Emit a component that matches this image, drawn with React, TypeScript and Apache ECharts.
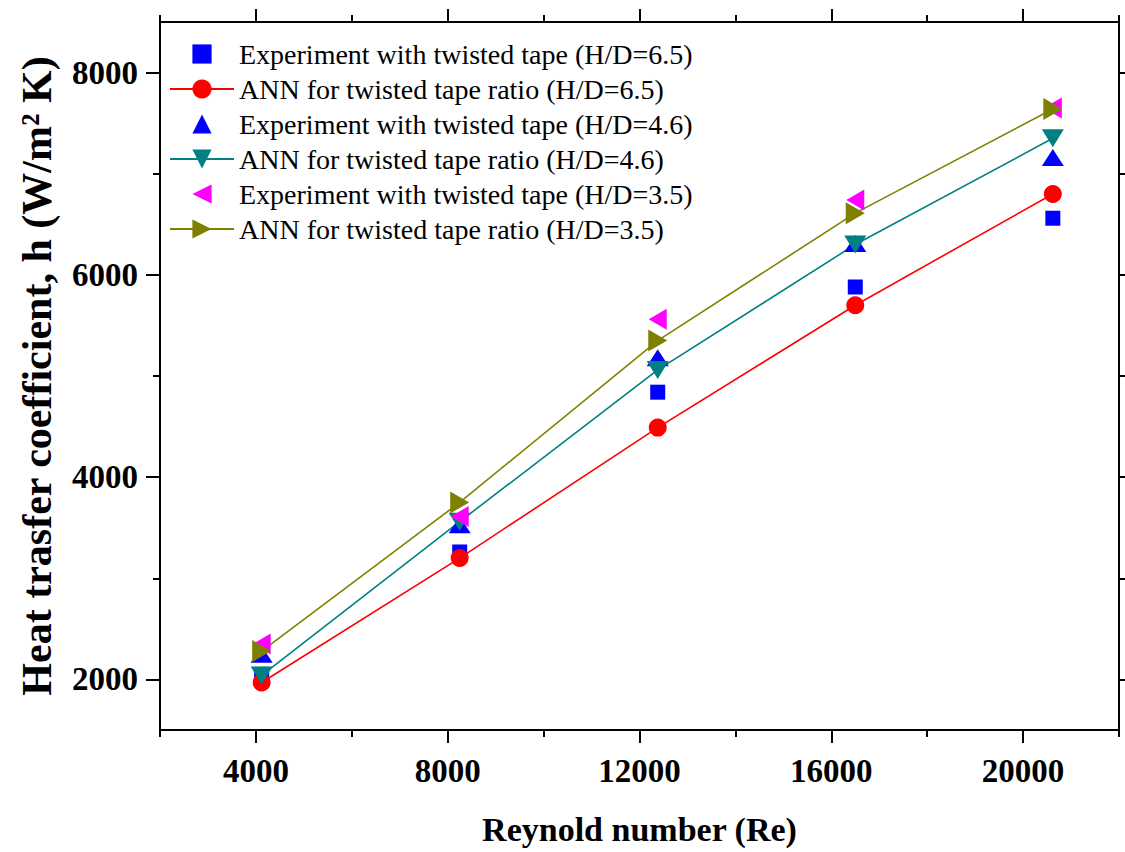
import React, { useEffect, useRef } from "react";
import * as echarts from "echarts";

// Reynolds numbers of the test runs
const reynolds = [4120, 8250, 12380, 16500, 20620];

// Heat transfer coefficient h (W/m² K)
const expHD65 = [2050, 3260, 4840, 5880, 6560];
const annHD65 = [1970, 3200, 4490, 5700, 6800];
const expHD46 = [2250, 3530, 5180, 6310, 7160];
const annHD46 = [2040, 3560, 5060, 6300, 7350];
const expHD35 = [2350, 3610, 5560, 6740, 7650];
const annHD35 = [2280, 3750, 5350, 6610, 7640];

const seriesNames = [
  "Experiment with twisted tape (H/D=6.5)",
  "ANN for twisted tape ratio (H/D=6.5)",
  "Experiment with twisted tape (H/D=4.6)",
  "ANN for twisted tape ratio (H/D=4.6)",
  "Experiment with twisted tape (H/D=3.5)",
  "ANN for twisted tape ratio (H/D=3.5)",
];

// Axis ranges and tick positions
const xRange = [2000, 22000];
const yRange = [1500, 8500];
const xMajorTicks = [4000, 8000, 12000, 16000, 20000];
const xMinorTicks = [2000, 6000, 10000, 14000, 18000, 22000];
const yMajorTicks = [2000, 4000, 6000, 8000];
const yMinorTicks = [3000, 5000, 7000];

const FONT = "Liberation Serif";

const TRI_UP = "path://M5,0 L10,10 L0,10 Z";
const TRI_DOWN = "path://M0,0 L10,0 L5,10 Z";
const TRI_LEFT = "path://M0,5 L10,0 L10,10 Z";
const TRI_RIGHT = "path://M0,0 L10,5 L0,10 Z";

const pairs = (ys: number[]) => reynolds.map((x, i) => [x, ys[i]]);
const plain = (v: number) => String(v);

function buildOption(): echarts.EChartsOption {
  const gridRect = { left: 160, right: 6, top: 22, bottom: 122, containLabel: false };
  const black = "#000";
  const tickLabel = { fontFamily: FONT, fontWeight: "bold" as const, fontSize: 33, color: black, formatter: plain };

  const majorX = (position: "bottom" | "top", withLabels: boolean) => ({
    type: "value" as const,
    gridIndex: 0,
    position,
    min: xRange[0],
    max: xRange[1],
    axisLine: { show: true, onZero: false, lineStyle: { color: black, width: 2 } },
    axisTick: { show: true, customValues: xMajorTicks, length: 13, lineStyle: { color: black, width: 2 } },
    axisLabel: withLabels
      ? { show: true, customValues: xMajorTicks, margin: 24, ...tickLabel }
      : { show: false },
    splitLine: { show: false },
    ...(withLabels
      ? {
          name: "Reynold number (Re)",
          nameLocation: "middle" as const,
          nameGap: 82,
          nameTextStyle: { fontFamily: FONT, fontWeight: "bold" as const, fontSize: 34, color: black },
        }
      : {}),
  });
  const minorX = (position: "bottom" | "top") => ({
    type: "value" as const,
    gridIndex: 1,
    position,
    min: xRange[0],
    max: xRange[1],
    axisLine: { show: false },
    axisTick: { show: true, customValues: xMinorTicks, length: 7, lineStyle: { color: black, width: 2 } },
    axisLabel: { show: false },
    splitLine: { show: false },
  });
  const majorY = (position: "left" | "right", withLabels: boolean) => ({
    type: "value" as const,
    gridIndex: 0,
    position,
    min: yRange[0],
    max: yRange[1],
    axisLine: { show: true, onZero: false, lineStyle: { color: black, width: 2 } },
    axisTick: { show: true, customValues: yMajorTicks, length: 14, lineStyle: { color: black, width: 2 } },
    axisLabel: withLabels
      ? { show: true, customValues: yMajorTicks, margin: 22, ...tickLabel }
      : { show: false },
    splitLine: { show: false },
    ...(withLabels
      ? {
          name: "Heat trasfer coefficient, h (W/m\u00B2 K)",
          nameLocation: "middle" as const,
          nameGap: 102,
          nameRotate: 90,
          nameTextStyle: { fontFamily: FONT, fontWeight: "bold" as const, fontSize: 42, color: black },
        }
      : {}),
  });
  const minorY = (position: "left" | "right") => ({
    type: "value" as const,
    gridIndex: 1,
    position,
    min: yRange[0],
    max: yRange[1],
    axisLine: { show: false },
    axisTick: { show: true, customValues: yMinorTicks, length: 7, lineStyle: { color: black, width: 2 } },
    axisLabel: { show: false },
    splitLine: { show: false },
  });

  const markerOnly = (name: string, ys: number[], symbol: string, size: number | number[], color: string) => ({
    name,
    type: "line" as const,
    xAxisIndex: 0,
    yAxisIndex: 0,
    data: pairs(ys),
    symbol,
    symbolSize: size,
    showSymbol: true,
    itemStyle: { color, opacity: 1 },
    lineStyle: { width: 0, opacity: 0 },
    emphasis: { disabled: true },
  });
  const withLine = (name: string, ys: number[], symbol: string, size: number | number[], color: string) => ({
    name,
    type: "line" as const,
    xAxisIndex: 0,
    yAxisIndex: 0,
    data: pairs(ys),
    symbol,
    symbolSize: size,
    showSymbol: true,
    itemStyle: { color, opacity: 1 },
    lineStyle: { width: 1.6, color },
    emphasis: { disabled: true },
  });

  return {
    animation: false,
    backgroundColor: "#fff",
    grid: [gridRect, gridRect],
    xAxis: [majorX("bottom", true), majorX("top", false), minorX("bottom"), minorX("top")],
    yAxis: [majorY("left", true), majorY("right", false), minorY("left"), minorY("right")],
    legend: {
      orient: "vertical",
      left: 169,
      top: 40,
      padding: 0,
      itemGap: 7,
      itemWidth: 64,
      itemHeight: 24,
      selectedMode: false,
      data: seriesNames,
      textStyle: { fontFamily: FONT, fontSize: 28, color: black, lineHeight: 28 },
    },
    series: [
      markerOnly(seriesNames[0], expHD65, "rect", 15, "#0000ff"),
      withLine(seriesNames[1], annHD65, "circle", 18, "#ff0000"),
      markerOnly(seriesNames[2], expHD46, TRI_UP, [22, 17], "#0000ff"),
      withLine(seriesNames[3], annHD46, TRI_DOWN, [22, 18], "#008080"),
      markerOnly(seriesNames[4], expHD35, TRI_LEFT, [18, 21], "#ff00ff"),
      withLine(seriesNames[5], annHD35, TRI_RIGHT, [19, 22], "#808000"),
    ],
  } as echarts.EChartsOption;
}

export default function App() {
  const ref = useRef<HTMLDivElement>(null);

  useEffect(() => {
    document.body.style.margin = "0";
    if (!ref.current) return;
    const chart = echarts.init(ref.current, undefined, { renderer: "svg" });
    chart.setOption(buildOption());
    return () => chart.dispose();
  }, []);

  return <div ref={ref} style={{ width: 1125, height: 852 }} />;
}
